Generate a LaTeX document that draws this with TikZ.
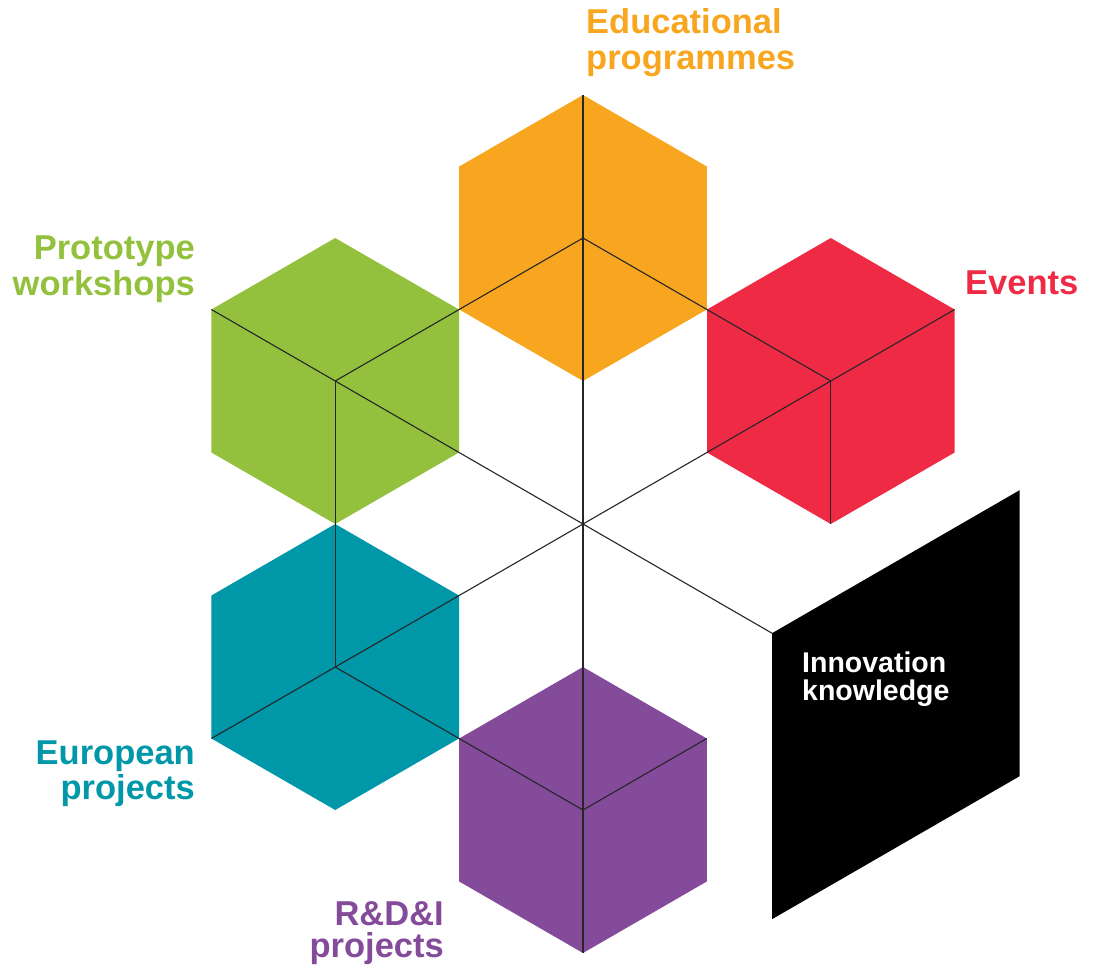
\documentclass[tikz,border=0pt]{standalone}
\usepackage{fontspec}
\setmainfont{Liberation Sans}
\definecolor{cOrange}{HTML}{F8A61F}
\definecolor{cRed}{HTML}{EE2A45}
\definecolor{cGreen}{HTML}{93C13E}
\definecolor{cTeal}{HTML}{0097A8}
\definecolor{cPurple}{HTML}{844B9A}
\tikzset{
  edge/.style={draw=black!85, line width=1.1pt},
  lbl/.style={inner sep=0pt, font=\fontsize{34.5}{36}\selectfont\bfseries},
  inlbl/.style={inner sep=0pt, text=white, font=\fontsize{28.5}{30}\selectfont\bfseries}
}
\newcommand{\hexat}[2]{%
  \fill[#2] ($(#1)+(0,-143)$) -- ($(#1)+(123.8,-71.5)$) -- ($(#1)+(123.8,71.5)$) --
    ($(#1)+(0,143)$) -- ($(#1)+(-123.8,71.5)$) -- ($(#1)+(-123.8,-71.5)$) -- cycle;}
\usetikzlibrary{calc}
\begin{document}
\begin{tikzpicture}[x=1pt,y=-1pt]
\useasboundingbox (0,0) rectangle (1095,967);
% centres
\coordinate (O) at (583,524);
\coordinate (cO) at (583,238);
\coordinate (cG) at (335.2,381);
\coordinate (cR) at (830.8,381);
\coordinate (cT) at (335.2,667);
\coordinate (cP) at (583,810);
% hexagons
\hexat{cO}{cOrange}
\hexat{cG}{cGreen}
\hexat{cR}{cRed}
\hexat{cT}{cTeal}
\hexat{cP}{cPurple}
% black face
\coordinate (k1) at (772,633.2);
\coordinate (k2) at (1019.6,490.2);
\coordinate (k3) at (1019.6,776.2);
\coordinate (k4) at (772,919.2);
\fill[black] (k1) -- (k2) -- (k3) -- (k4) -- cycle;
% vertices used by lines
\coordinate (oTop) at (583,95);
\coordinate (pBot) at (583,953);
\coordinate (rBot) at (830.8,524);
\coordinate (gUL) at (211.4,309.5);
\coordinate (tLL) at (211.4,738.5);
\coordinate (rUR) at (954.6,309.5);
\coordinate (pUR) at (706.8,738.5);
% lines
\draw[edge] (oTop) -- (pBot);
\draw[edge] (cG) -- (cT);
\draw[edge] (cR) -- (rBot);
\draw[edge] (gUL) -- (O) -- (k1);
\draw[edge] (cO) -- (cR);
\draw[edge] (cT) -- (cP);
\draw[edge] (tLL) -- (O) -- (rUR);
\draw[edge] (cG) -- (cO);
\draw[edge] (cP) -- (pUR);
% labels
\node[lbl, text=cOrange, anchor=base west] (ed1) at (586,33) {Educational};
\node[lbl, text=cOrange, anchor=base west] (ed2) at (586,69) {programmes};
\node[lbl, text=cGreen, anchor=base east] (pr1) at (195,259) {Prototype};
\node[lbl, text=cGreen, anchor=base east] (pr2) at (195,295) {workshops};
\node[lbl, text=cRed, anchor=base west] (ev) at (965,294) {Events};
\node[lbl, text=cTeal, anchor=base east] (eu1) at (195,764) {European};
\node[lbl, text=cTeal, anchor=base east] (eu2) at (195,799) {projects};
\node[lbl, text=cPurple, anchor=base east] (rd1) at (444,925) {R\&D\&I};
\node[lbl, text=cPurple, anchor=base east] (rd2) at (444,957) {projects};
\node[inlbl, anchor=base west] (in1) at (802,672) {Innovation};
\node[inlbl, anchor=base west] (in2) at (802,700) {knowledge};
\end{tikzpicture}
\end{document}
